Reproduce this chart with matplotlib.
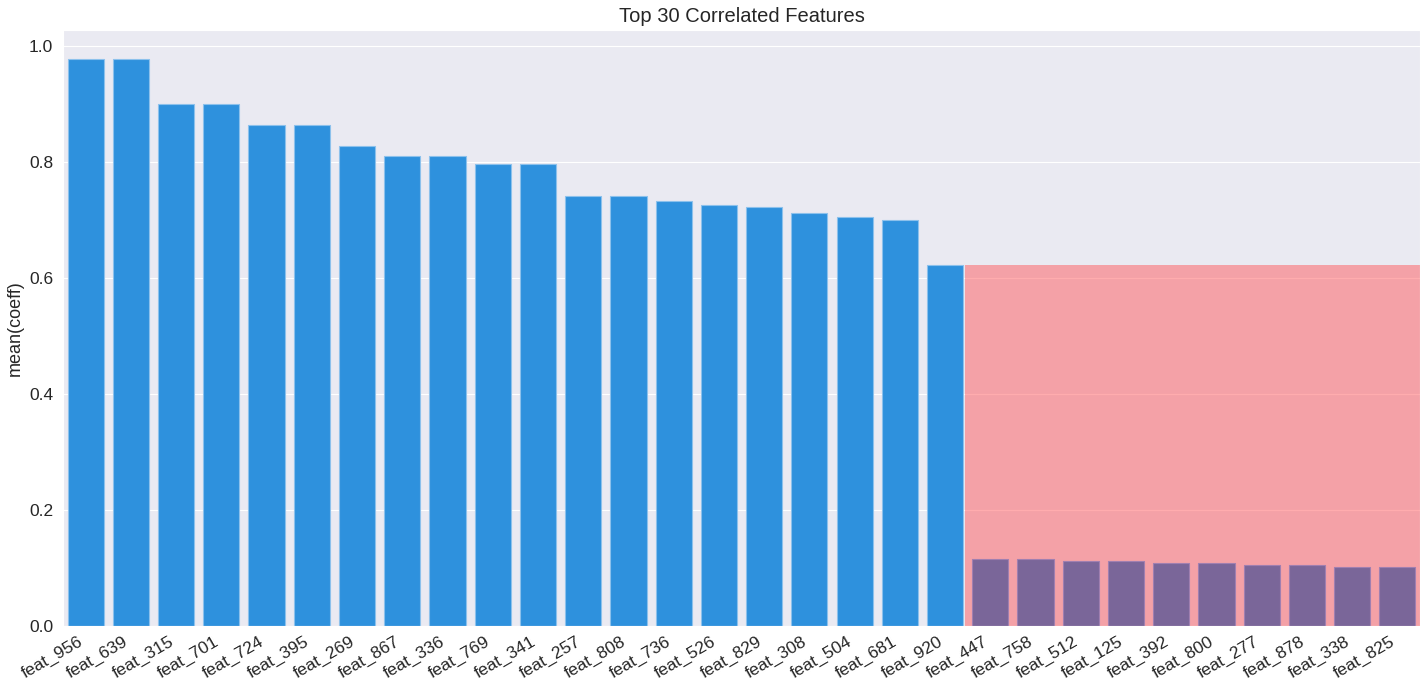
import numpy as np
import matplotlib
matplotlib.use('Agg')
import matplotlib.pyplot as plt
import seaborn as sns
from matplotlib.patches import Rectangle

# dados
features = ['feat_956', 'feat_639', 'feat_315', 'feat_701', 'feat_724', 'feat_395',
            'feat_269', 'feat_867', 'feat_336', 'feat_769', 'feat_341', 'feat_257',
            'feat_808', 'feat_736', 'feat_526', 'feat_829', 'feat_308', 'feat_504',
            'feat_681', 'feat_920', 'feat_447', 'feat_758', 'feat_512', 'feat_125',
            'feat_392', 'feat_800', 'feat_277', 'feat_878', 'feat_338', 'feat_825']
coeff = [0.978, 0.978, 0.900, 0.900, 0.864, 0.864, 0.828, 0.810, 0.810, 0.797,
         0.797, 0.741, 0.741, 0.733, 0.726, 0.722, 0.712, 0.706, 0.700, 0.622,
         0.116, 0.116, 0.112, 0.112, 0.108, 0.108, 0.105, 0.105, 0.101, 0.101]
n_destaque = 20  # primeiras barras fora da faixa vermelha

sns.set_style('darkgrid')
plt.rcParams['font.family'] = ['Liberation Sans', 'DejaVu Sans']

fig = plt.figure(figsize=(14.26, 6.89), dpi=100)
ax = fig.add_axes([0.0442, 0.0914, 0.9516, 0.8651])

x = np.arange(len(features))
cores = ['#2E91DD'] * n_destaque + ['#7A6699'] * (len(features) - n_destaque)
bordas = ['#8CC1EC'] * n_destaque + ['#A07FB0'] * (len(features) - n_destaque)
ax.bar(x, coeff, width=0.8, color=cores, edgecolor=bordas, linewidth=0.8, zorder=2)
ax.set_xlim(-0.5, len(features) - 0.5)
ax.set_ylim(0, max(coeff) * 1.051)
ax.xaxis.grid(False)

# faixa vermelha atrás das barras de baixo coeficiente
ax.add_patch(Rectangle((n_destaque - 0.55, 0), len(features) - n_destaque + 0.05,
                       coeff[n_destaque - 1], facecolor='#FF5A5E', alpha=0.5,
                       edgecolor='none', zorder=1))

ax.set_xticks(x)
ax.set_xticklabels(features, rotation=30, ha='right', fontsize=12.5, color='#262626')
ax.set_yticks([0.0, 0.2, 0.4, 0.6, 0.8, 1.0])
ax.tick_params(axis='y', labelsize=12.5, labelcolor='#262626')
ax.tick_params(axis='x', pad=2)
ax.set_ylabel('mean(coeff)', fontsize=13, color='#262626')
ax.set_title('Top 30 Correlated Features', fontsize=14.5, color='#262626')

plt.savefig('out.png', dpi=100)
